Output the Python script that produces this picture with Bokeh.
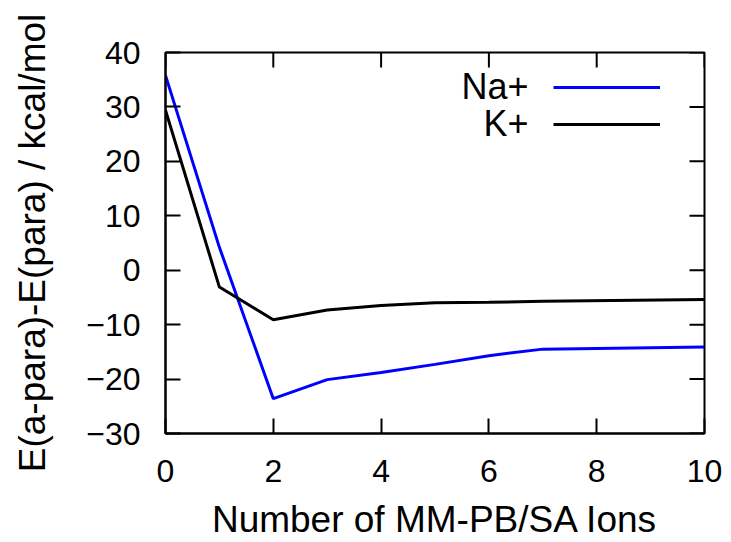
import math
from bokeh.plotting import figure
from bokeh.models import Range1d, FixedTicker, Legend, LegendItem, Label
from bokeh.embed import file_html
from bokeh.resources import INLINE

# ---- data ----
ions = [0, 1, 2, 3, 4, 5, 6, 7, 10]
na_plus = [35.8, 4.2, -23.6, -20.1, -18.8, -17.3, -15.7, -14.5, -14.1]
k_plus = [29.4, -3.1, -9.1, -7.3, -6.5, -6.0, -5.9, -5.7, -5.4]
series_names = ["Na+", "K+"]
x_ticks = [0, 2, 4, 6, 8, 10]
y_ticks = [-30, -20, -10, 0, 10, 20, 30, 40]
x_lo, x_hi = 0, 10
y_lo, y_hi = -30, 40
x_title = "Number of MM-PB/SA Ions"
y_title = "E(a-para)-E(para) / kcal/mol"

FONT = "Liberation Sans"
TICK_FS = "32px"
LABEL_FS = "37px"

p = figure(width=731, height=542, output_backend="svg", toolbar_location=None,
           x_range=Range1d(x_lo, x_hi), y_range=Range1d(y_lo, y_hi),
           min_border_left=165, min_border_right=27, min_border_top=52,
           min_border_bottom=108)
p.xgrid.visible = False
p.ygrid.visible = False
p.outline_line_color = "black"
p.outline_line_width = 2
p.background_fill_color = "white"
p.border_fill_color = "white"

for ax, ticks in ((p.xaxis[0], x_ticks), (p.yaxis[0], y_ticks)):
    ax.ticker = FixedTicker(ticks=ticks)
    ax.axis_line_color = "black"
    ax.axis_line_width = 2
    ax.major_tick_line_color = "black"
    ax.major_tick_line_width = 2
    ax.major_tick_in = 15
    ax.major_tick_out = 0
    ax.minor_tick_line_color = None
    ax.major_label_text_font = FONT
    ax.major_label_text_font_size = TICK_FS
    ax.major_label_text_color = "black"
    ax.axis_label_text_font = FONT
    ax.axis_label_text_font_size = LABEL_FS
    ax.axis_label_text_font_style = "normal"
    ax.axis_label_text_color = "black"

p.xaxis[0].major_label_standoff = 26
p.yaxis[0].major_label_standoff = 25
p.xaxis[0].axis_label = x_title
p.xaxis[0].axis_label_standoff = 14
p.yaxis[0].axis_label = y_title
p.yaxis[0].axis_label_standoff = 30

# mirrored inward ticks on the top and right edges
p.ray(x=x_ticks, y=[y_hi] * len(x_ticks), length=15, length_units="screen",
      angle=-math.pi / 2, line_color="black", line_width=2)
p.ray(x=[x_hi] * len(y_ticks), y=y_ticks, length=15, length_units="screen",
      angle=math.pi, line_color="black", line_width=2)

r_na = p.line(ions, na_plus, line_color="#0000ff", line_width=3)
r_k = p.line(ions, k_plus, line_color="black", line_width=3)

for r, top in ((r_na, 336), (r_k, 299)):
    lg = Legend(items=[LegendItem(label=" ", renderers=[r])],
                location=(388, top), glyph_width=107, glyph_height=20,
                label_height=20, label_width=0, label_standoff=0,
                label_text_font_size="10px", padding=0, margin=0,
                border_line_color=None, background_fill_alpha=0)
    p.add_layout(lg, "center")

for name, ypos in zip(series_names, [347, 310]):
    p.add_layout(Label(x=363, y=ypos, x_units="screen", y_units="screen",
                       text=name, text_align="right", text_baseline="middle",
                       text_font=FONT, text_font_size="36px", text_color="black"))

open("out.html", "w").write(file_html(p, INLINE))
